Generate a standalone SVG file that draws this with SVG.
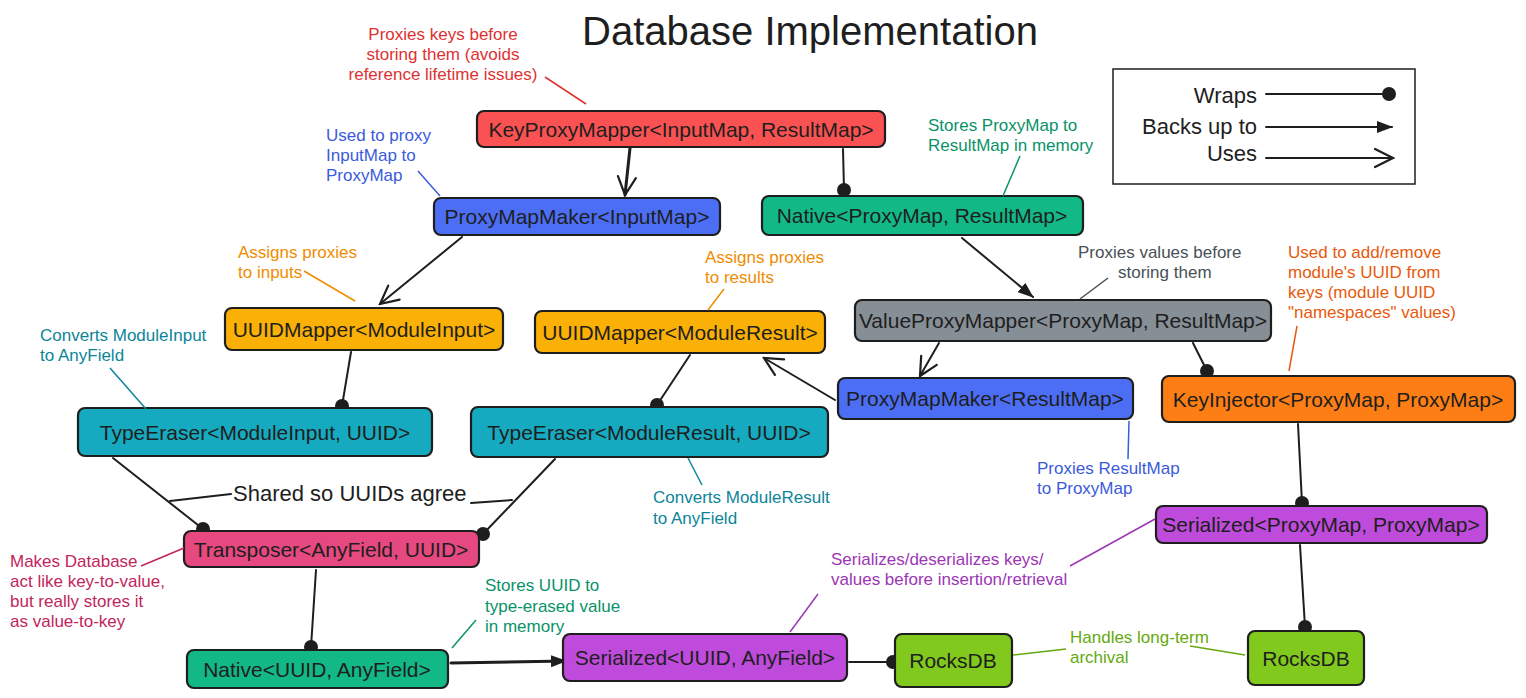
<svg xmlns="http://www.w3.org/2000/svg" width="1526" height="698" viewBox="0 0 1526 698">
<style>
.bg{fill:#ffffff}
.node rect{stroke:#1e1e1e;stroke-width:2.2}
.node text{font-family:"Liberation Sans",Arial,sans-serif;font-size:21px;fill:#1e1e1e;text-anchor:middle;dominant-baseline:central}
.conn{stroke:#1e1e1e;stroke-width:2;fill:none;stroke-linecap:round}
.thick{stroke-width:3}
.note{font-family:"Liberation Sans",Arial,sans-serif;font-size:17px}
.lead{fill:none;stroke-width:1.5}
.title{font-family:"Liberation Sans",Arial,sans-serif;font-size:40px;fill:#1e1e1e;text-anchor:middle}
.legend{font-family:"Liberation Sans",Arial,sans-serif;font-size:22px;fill:#1e1e1e;text-anchor:end}
.lbl{font-family:"Liberation Sans",Arial,sans-serif;font-size:22px;fill:#1e1e1e}
</style>
<defs>
<marker id="dot" viewBox="-8 -8 16 16" refX="0" refY="0" markerWidth="16" markerHeight="16" markerUnits="userSpaceOnUse"><circle r="7" fill="#1e1e1e"/></marker>
<marker id="tri" viewBox="0 0 16 12" refX="15" refY="6" markerWidth="16" markerHeight="12" orient="auto" markerUnits="userSpaceOnUse"><path d="M0,0 L16,6 L0,12 z" fill="#1e1e1e"/></marker>
<marker id="open" viewBox="0 0 22 22" refX="20" refY="11" markerWidth="22" markerHeight="22" orient="auto" markerUnits="userSpaceOnUse"><path d="M2,2 L20,11 L2,20" fill="none" stroke="#1e1e1e" stroke-width="2.2" stroke-linecap="round"/></marker>
</defs>
<rect class="bg" x="0" y="0" width="1526" height="698"/>

<text class="title" x="810" y="45">Database Implementation</text>

<g id="legend">
<rect x="1113" y="69" width="302" height="115" fill="none" stroke="#1e1e1e" stroke-width="1.5"/>
<text class="legend" x="1257" y="103">Wraps</text>
<text class="legend" x="1257" y="134">Backs up to</text>
<text class="legend" x="1257" y="161">Uses</text>
<line class="conn" x1="1266" y1="94" x2="1389" y2="94" marker-end="url(#dot)"/>
<line class="conn" x1="1266" y1="127" x2="1392" y2="127" marker-end="url(#tri)"/>
<line class="conn" x1="1266" y1="158" x2="1393" y2="158" marker-end="url(#open)"/>
</g>

<g id="connectors">
<line class="conn thick" x1="630" y1="148" x2="625" y2="195" marker-end="url(#open)"/>
<line class="conn" x1="843" y1="149" x2="844" y2="190" marker-end="url(#dot)"/>
<line class="conn" x1="462" y1="237" x2="380" y2="304" marker-end="url(#open)"/>
<line class="conn" x1="962" y1="238" x2="1033" y2="297" marker-end="url(#tri)"/>
<line class="conn" x1="351" y1="352" x2="342" y2="406" marker-end="url(#dot)"/>
<line class="conn" x1="690" y1="355" x2="657" y2="405" marker-end="url(#dot)"/>
<line class="conn" x1="939" y1="343" x2="920" y2="376" marker-end="url(#open)"/>
<line class="conn" x1="835" y1="400" x2="764" y2="358" marker-end="url(#open)"/>
<line class="conn" x1="1193" y1="343" x2="1207" y2="371" marker-end="url(#dot)"/>
<line class="conn" x1="113" y1="458" x2="203" y2="529" marker-end="url(#dot)"/>
<line class="conn" x1="555" y1="459" x2="483" y2="534" marker-end="url(#dot)"/>
<line class="conn" x1="316" y1="570" x2="311" y2="647" marker-end="url(#dot)"/>
<line class="conn thick" x1="451" y1="663" x2="566" y2="661" marker-end="url(#tri)"/>
<line class="conn" x1="849" y1="662" x2="893" y2="662" marker-end="url(#dot)"/>
<line class="conn" x1="1298" y1="424" x2="1302" y2="503" marker-end="url(#dot)"/>
<line class="conn" x1="1300" y1="545" x2="1305" y2="627" marker-end="url(#dot)"/>
<path class="conn" d="M170,501 L231,494"/>
<path class="conn" d="M471,503 L512,500"/>
<text class="lbl" x="233" y="501">Shared so UUIDs agree</text>
</g>

<g id="n-keyproxymapper" class="node"><rect x="477" y="111" width="408" height="36" rx="7" fill="#fa5252"/><text x="681" y="129">KeyProxyMapper&lt;InputMap, ResultMap&gt;</text></g>
<g id="n-proxymapmaker-input" class="node"><rect x="434" y="198" width="286" height="37" rx="7" fill="#4c6ef5"/><text x="577" y="216">ProxyMapMaker&lt;InputMap&gt;</text></g>
<g id="n-native-proxymap" class="node"><rect x="762" y="196" width="321" height="39" rx="7" fill="#12b886"/><text x="922" y="215">Native&lt;ProxyMap, ResultMap&gt;</text></g>
<g id="n-uuidmapper-input" class="node"><rect x="225" y="308" width="278" height="42" rx="7" fill="#fab005"/><text x="364" y="329">UUIDMapper&lt;ModuleInput&gt;</text></g>
<g id="n-uuidmapper-result" class="node"><rect x="535" y="311" width="290" height="42" rx="7" fill="#fab005"/><text x="680" y="332">UUIDMapper&lt;ModuleResult&gt;</text></g>
<g id="n-valueproxymapper" class="node"><rect x="855" y="300" width="416" height="41" rx="7" fill="#868e96"/><text x="1063" y="320">ValueProxyMapper&lt;ProxyMap, ResultMap&gt;</text></g>
<g id="n-typeeraser-input" class="node"><rect x="78" y="408" width="354" height="48" rx="7" fill="#15aabf"/><text x="255" y="432">TypeEraser&lt;ModuleInput, UUID&gt;</text></g>
<g id="n-typeeraser-result" class="node"><rect x="471" y="407" width="357" height="50" rx="7" fill="#15aabf"/><text x="649" y="432">TypeEraser&lt;ModuleResult, UUID&gt;</text></g>
<g id="n-proxymapmaker-result" class="node"><rect x="838" y="378" width="295" height="41" rx="7" fill="#4c6ef5"/><text x="985" y="398">ProxyMapMaker&lt;ResultMap&gt;</text></g>
<g id="n-keyinjector" class="node"><rect x="1162" y="376" width="353" height="46" rx="7" fill="#fd7e14"/><text x="1338" y="399">KeyInjector&lt;ProxyMap, ProxyMap&gt;</text></g>
<g id="n-serialized-proxymap" class="node"><rect x="1156" y="506" width="331" height="37" rx="7" fill="#be4bdb"/><text x="1321" y="524">Serialized&lt;ProxyMap, ProxyMap&gt;</text></g>
<g id="n-transposer" class="node"><rect x="184" y="531" width="295" height="36" rx="7" fill="#e64980"/><text x="331" y="549">Transposer&lt;AnyField, UUID&gt;</text></g>
<g id="n-native-uuid" class="node"><rect x="187" y="650" width="261" height="38" rx="7" fill="#12b886"/><text x="317" y="669">Native&lt;UUID, AnyField&gt;</text></g>
<g id="n-serialized-uuid" class="node"><rect x="563" y="634" width="284" height="47" rx="7" fill="#be4bdb"/><text x="705" y="657">Serialized&lt;UUID, AnyField&gt;</text></g>
<g id="n-rocksdb-1" class="node"><rect x="895" y="634" width="117" height="53" rx="7" fill="#82c91e"/><text x="953" y="660">RocksDB</text></g>
<g id="n-rocksdb-2" class="node"><rect x="1248" y="631" width="116" height="54" rx="7" fill="#82c91e"/><text x="1306" y="658">RocksDB</text></g>

<g id="annotations">
<g fill="#e03131"><text class="note" x="443" y="40" text-anchor="middle">Proxies keys before</text><text class="note" x="443" y="60" text-anchor="middle">storing them (avoids</text><text class="note" x="443" y="80" text-anchor="middle">reference lifetime issues)</text></g>
<line class="lead" stroke="#e03131" x1="545" y1="77" x2="586" y2="104"/>

<g fill="#3b5bdb"><text class="note" x="326" y="141">Used to proxy</text><text class="note" x="326" y="161">InputMap to</text><text class="note" x="326" y="181">ProxyMap</text></g>
<line class="lead" stroke="#3b5bdb" x1="418" y1="171" x2="440" y2="196"/>

<g fill="#099268"><text class="note" x="928" y="131">Stores ProxyMap to</text><text class="note" x="928" y="151">ResultMap in memory</text></g>
<line class="lead" stroke="#099268" x1="1020" y1="156" x2="1003" y2="196"/>

<g fill="#f08c00"><text class="note" x="238" y="258">Assigns proxies</text><text class="note" x="238" y="278">to inputs</text></g>
<line class="lead" stroke="#f08c00" x1="304" y1="271" x2="355" y2="301"/>

<g fill="#f08c00"><text class="note" x="705" y="263">Assigns proxies</text><text class="note" x="705" y="283">to results</text></g>
<line class="lead" stroke="#f08c00" x1="724" y1="289" x2="708" y2="310"/>

<g fill="#495057"><text class="note" x="1078" y="258">Proxies values before</text><text class="note" x="1118" y="278">storing them</text></g>
<line class="lead" stroke="#495057" stroke-width="2" x1="1108" y1="278" x2="1080" y2="299"/>

<g fill="#e8590c"><text class="note" x="1288" y="258">Used to add/remove</text><text class="note" x="1288" y="278">module's UUID from</text><text class="note" x="1288" y="298">keys (module UUID</text><text class="note" x="1288" y="318">"namespaces" values)</text></g>
<line class="lead" stroke="#e8590c" x1="1297" y1="326" x2="1289" y2="371"/>

<g fill="#0c8599"><text class="note" x="40" y="341">Converts ModuleInput</text><text class="note" x="40" y="361">to AnyField</text></g>
<line class="lead" stroke="#0c8599" x1="110" y1="368" x2="146" y2="409"/>

<g fill="#0c8599"><text class="note" x="653" y="503">Converts ModuleResult</text><text class="note" x="653" y="524">to AnyField</text></g>
<line class="lead" stroke="#0c8599" x1="688" y1="458" x2="702" y2="485"/>

<g fill="#3b5bdb"><text class="note" x="1037" y="474">Proxies ResultMap</text><text class="note" x="1037" y="494">to ProxyMap</text></g>
<line class="lead" stroke="#3b5bdb" x1="1129" y1="421" x2="1128" y2="459"/>

<g fill="#c2255c"><text class="note" x="10" y="567">Makes Database</text><text class="note" x="10" y="587">act like key-to-value,</text><text class="note" x="10" y="607">but really stores it</text><text class="note" x="10" y="627">as value-to-key</text></g>
<line class="lead" stroke="#c2255c" x1="141" y1="566" x2="184" y2="548"/>

<g fill="#099268"><text class="note" x="485" y="591">Stores UUID to</text><text class="note" x="485" y="612">type-erased value</text><text class="note" x="485" y="632">in memory</text></g>
<line class="lead" stroke="#099268" x1="476" y1="620" x2="452" y2="648"/>

<g fill="#9c36b5"><text class="note" x="831" y="565">Serializes/deserializes keys/</text><text class="note" x="831" y="585">values before insertion/retrieval</text></g>
<line class="lead" stroke="#9c36b5" x1="818" y1="594" x2="790" y2="632"/>
<line class="lead" stroke="#9c36b5" x1="1070" y1="566" x2="1155" y2="519"/>

<g fill="#66a80f"><text class="note" x="1070" y="643">Handles long-term</text><text class="note" x="1070" y="663">archival</text></g>
<line class="lead" stroke="#66a80f" x1="1013" y1="655" x2="1066" y2="649"/>
<line class="lead" stroke="#66a80f" x1="1190" y1="646" x2="1245" y2="655"/>
</g>
</svg>
